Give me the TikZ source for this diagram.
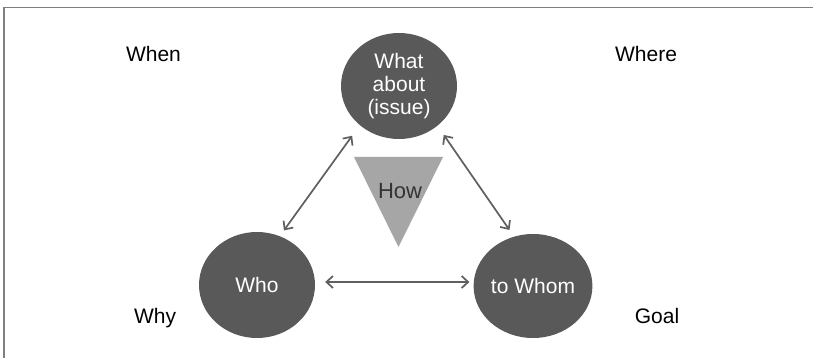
\documentclass[tikz,border=0pt]{standalone}
\usepackage{fontspec}
\setmainfont{Liberation Sans}
\usetikzlibrary{arrows.meta,shapes.geometric,calc}
\definecolor{circfill}{HTML}{595959}
\definecolor{trifill}{HTML}{A6A6A6}
\definecolor{arrcol}{HTML}{5F5F5F}
\definecolor{framecol}{HTML}{7F7F7F}
\definecolor{howcol}{HTML}{333333}
\begin{document}
\begin{tikzpicture}[x=1pt,y=-1pt,
  bubble/.style={ellipse, fill=circfill, text=white, inner sep=0pt,
    minimum width=116pt, minimum height=106pt, align=center,
    font=\fontsize{21}{23}\selectfont},
  corner/.style={anchor=base, text=black, inner sep=0pt,
    font=\fontsize{21}{24}\selectfont},
  link/.style={draw=arrcol, line width=1.7pt,
    {Straight Barb[length=6.5pt,width=12pt]}-{Straight Barb[length=6.5pt,width=12pt]}}]
\useasboundingbox (0,0) rectangle (813,358);
\fill[white] (0,0) rectangle (813,358);
% frame
\draw[framecol, line width=1.8pt] (4,358) -- (4,7.5) -- (813,7.5);
% bubbles
\node[bubble] (what) at (399,86) {What\\about\\(issue)};
\node[bubble] (who) at (257,285) {Who};
\node[bubble, minimum width=112pt, minimum height=104pt] (whom) at (533,286) {to Whom};
% triangle
\fill[trifill] (354,157) -- (443,157) -- (398.5,247) -- cycle;
\node[text=howcol, inner sep=0pt, font=\fontsize{22}{24}\selectfont] (how) at (400,191) {How};
% connectors
\draw[link, shorten <=7pt, shorten >=13pt] (who.65) -- (what.225);
\draw[link, shorten <=11pt, shorten >=8pt] (what.314) -- (whom.111);
\draw[link, shorten <=10pt, shorten >=4pt] ([yshift=3pt]who.east) -- ([yshift=4pt]whom.west);
% corner labels
\node[corner] (when) at (153.5,62) {When};
\node[corner] (where) at (646,62) {Where};
\node[corner] (why) at (155,323) {Why};
\node[corner] (goal) at (657,323) {Goal};
\end{tikzpicture}
\end{document}
